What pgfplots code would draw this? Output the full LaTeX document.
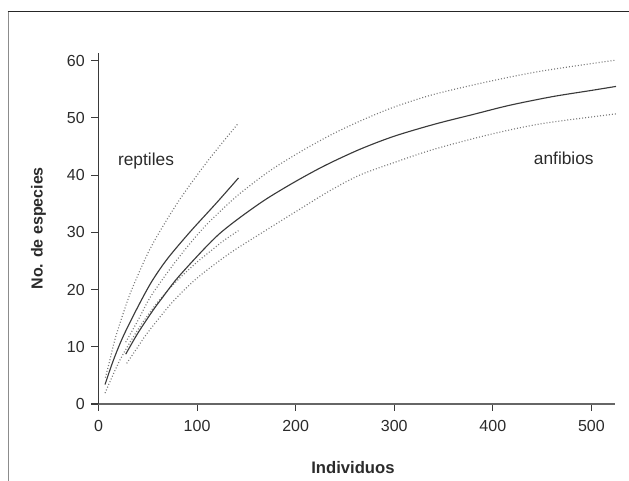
\documentclass[border=0pt]{standalone}
\usepackage{pgfplots}
\pgfplotsset{compat=1.18}
\usepackage{fontspec}
\setmainfont{Liberation Sans}
\definecolor{txt}{HTML}{2B2B2B}
\definecolor{ln}{HTML}{3A3A3A}
\definecolor{dt}{HTML}{7A7A7A}

\pgfplotstableread{
x y
6.6 3.4
15 7.6
25 11.8
40 17.0
54 21.4
70 25.4
93 30.1
120 35.2
142 39.5
}\repsolid
\pgfplotstableread{
x y
7 4.6
11.7 7.8
16.7 11.3
25 15.8
33.7 20.0
50.5 26.5
65.8 31.2
85 36.4
111.4 42.6
141 48.9
}\repupper
\pgfplotstableread{
x y
6.6 1.9
21.8 7.7
40 13.0
60 17.8
80 21.6
100 24.8
115 26.9
126.6 28.5
142 30.3
}\replower
\pgfplotstableread{
x y
27.6 8.7
40 12.4
55 16.3
64 18.4
80 22.0
106 26.9
123 29.8
143.6 32.6
170 35.8
200 38.9
230 41.7
265 44.5
300 46.8
341 48.9
380 50.6
417 52.2
460 53.7
500 54.8
525 55.5
}\amsolid
\pgfplotstableread{
x y
27.6 10.8
40 14.6
52.3 18.6
70 23.0
86 26.6
105 30.5
123 33.6
143.6 36.8
175 40.9
210 44.6
240 47.4
270 49.8
300 51.9
340 54.1
397 56.4
450 58.2
525 60.1
}\amupper
\pgfplotstableread{
x y
28.6 7.1
40 10.0
50 12.5
75 17.8
100 22.0
132 26.2
160 29.3
200 33.6
235 37.3
265 40.0
300 42.2
340 44.5
397 47.1
450 49.0
525 50.7
}\amlower

\begin{document}
\begin{tikzpicture}
\path[use as bounding box] (0,0) rectangle (471.75pt,360.75pt);
\draw[color=black!45, line width=1.1pt] (6.2pt,0) -- (6.2pt,351.9pt);
\draw[color=black!85, line width=0.9pt] (5.7pt,351.9pt) -- (471.75pt,351.9pt);
\begin{axis}[
  at={(73.875pt,57.75pt)}, anchor=south west,
  scale only axis, width=387.4pt, height=263.5pt,
  xmin=0, xmax=524, ymin=0, ymax=61.4,
  axis lines*=left,
  axis line style={line width=0.8pt, color=ln},
  x axis line style={color=black!60},
  tick align=outside, major tick length=5.25pt,
  xtick={0,100,...,500}, ytick={0,10,...,60},
  tick style={color=ln, line width=0.8pt},
  ticklabel style={font=\fontsize{12}{14}\selectfont, color=txt},
  xticklabel style={yshift=-3.5pt},
  yticklabel style={xshift=-1.5pt},
  /pgf/number format/assume math mode=true,
  xlabel={Individuos},
  ylabel={No. de especies},
  xlabel style={font=\bfseries\fontsize{12.5}{14}\selectfont, color=txt,
    at={(axis description cs:0.4926,-0.1822)}, anchor=center},
  ylabel style={font=\bfseries\fontsize{12}{14}\selectfont, color=txt,
    at={(axis description cs:-0.1162,0.5)}, anchor=center},
  clip=false,
  every axis plot/.append style={smooth, tension=0.5, no markers, line width=0.85pt},
]
\addplot[ln] table {\repsolid};
\addplot[dt, dash pattern=on 0.75pt off 1.5pt] table {\repupper};
\addplot[dt, dash pattern=on 0.75pt off 1.5pt] table {\replower};
\addplot[ln] table {\amsolid};
\addplot[dt, dash pattern=on 0.75pt off 1.5pt] table {\amupper};
\addplot[dt, dash pattern=on 0.75pt off 1.5pt] table {\amlower};
\node[font=\fontsize{13}{15}\selectfont, color=txt] at (axis cs:48.2,42.5) {reptiles};
\node[font=\fontsize{13}{15}\selectfont, color=txt] at (axis cs:472,43) {anfibios};
\end{axis}
\end{tikzpicture}
\end{document}
